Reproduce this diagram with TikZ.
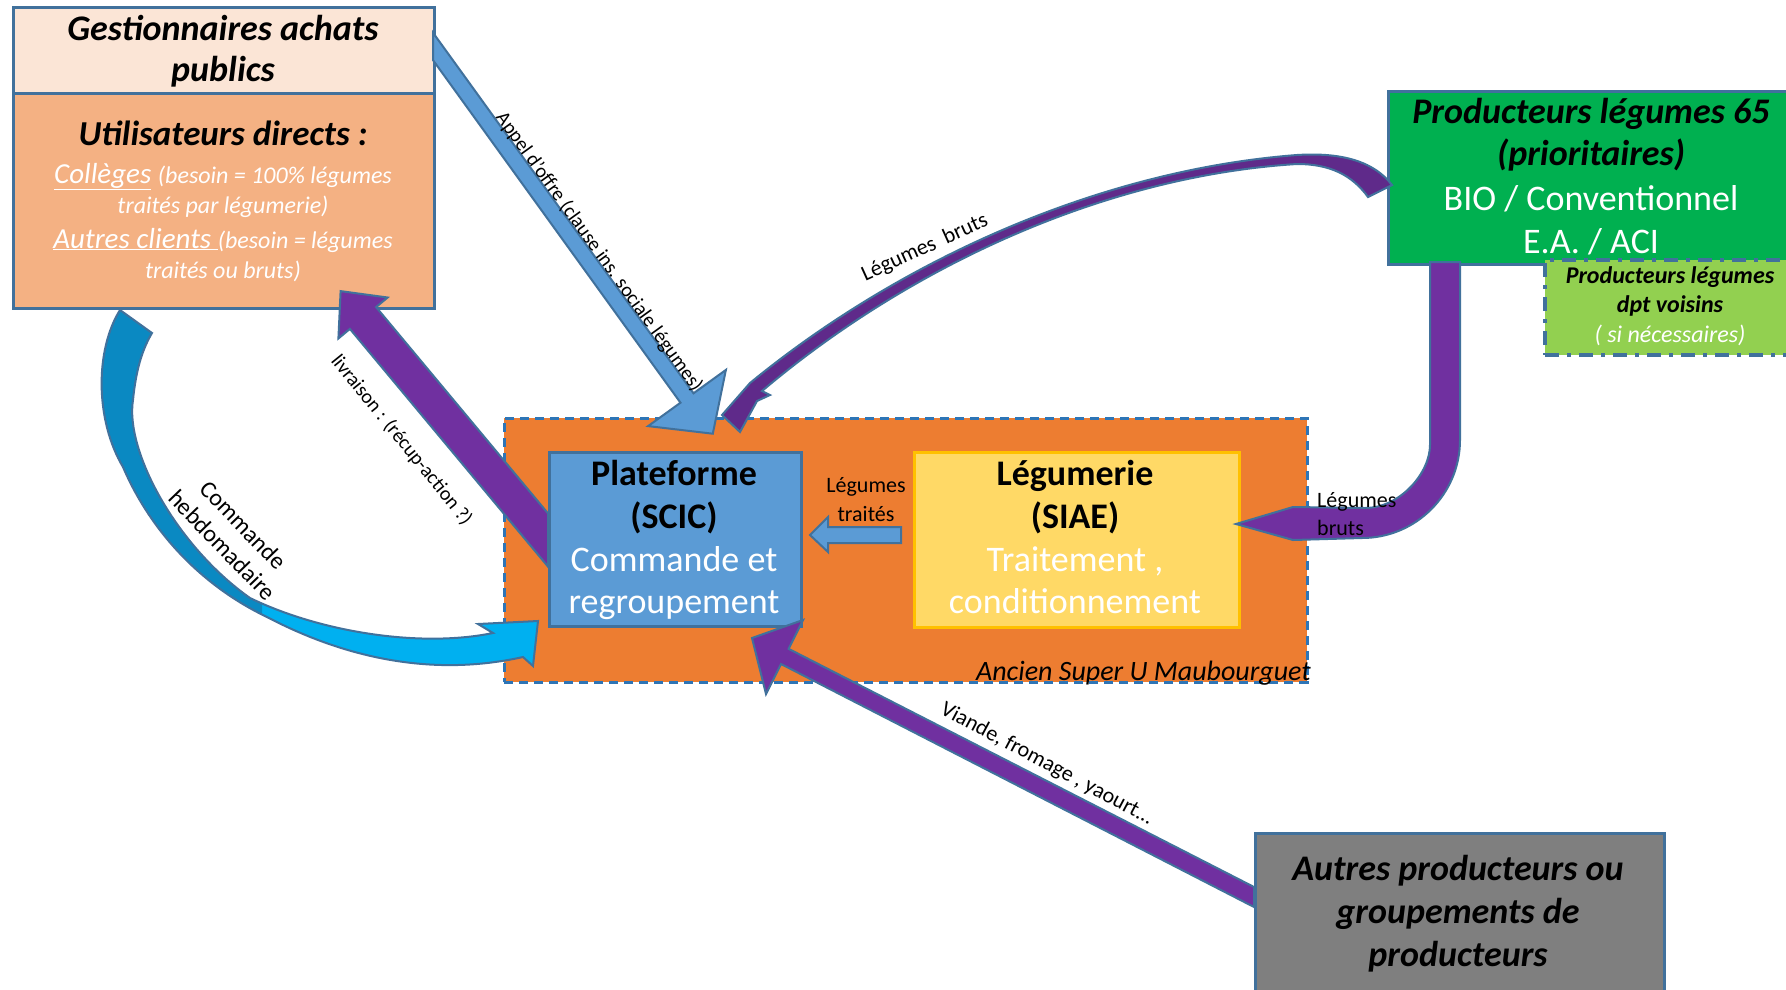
\documentclass[tikz,border=0pt]{standalone}
\usepackage{fontspec}
\setmainfont{Carlito}
\definecolor{bord}{HTML}{41719C}
\definecolor{gestTop}{HTML}{FBE5D6}
\definecolor{gestBot}{HTML}{F4B183}
\definecolor{vert}{HTML}{00B050}
\definecolor{vertclair}{HTML}{92D050}
\definecolor{orangeC}{HTML}{ED7D31}
\definecolor{bleuP}{HTML}{5B9BD5}
\definecolor{jauneL}{HTML}{FFD966}
\definecolor{orL}{HTML}{FFC000}
\definecolor{grisA}{HTML}{7F7F7F}
\definecolor{violet}{HTML}{7030A0}
\definecolor{violetF}{HTML}{5F2A8A}
\definecolor{bleuF}{HTML}{0A89C2}
\definecolor{bleuC}{HTML}{00B0F0}
\definecolor{dashblue}{HTML}{2E75B6}
\newcommand\fsz[1]{\fontsize{#1}{#1}\selectfont}
\tikzset{
  box/.style={draw=bord, line width=2.5pt, inner sep=0pt, anchor=north west},
  lbl/.style={inner sep=0pt, anchor=base},
  arr/.style={draw=bord, line width=2pt, line join=miter},
}
\begin{document}
\begin{tikzpicture}[x=1pt,y=-1pt]
\useasboundingbox (0,0) rectangle (1786,989);
\clip (0,0) rectangle (1786,989);
\fill[white] (0,0) rectangle (1786,989);

% site container
\node[box, draw=dashblue, dash pattern=on 9pt off 6pt, fill=orangeC, minimum width=803pt, minimum height=264pt] (site) at (503,417) {};
\node[lbl, anchor=base east, font=\fsz{28}\itshape] (siteLbl) at (1311,680) {Ancien Super U Maubourguet};

% plateforme
\node[box, fill=bleuP, minimum width=252pt, minimum height=174pt] (plat) at (548,451) {};
\node[lbl, font=\fsz{36}\bfseries] (platA) at (674,485) {Plateforme};
\node[lbl, font=\fsz{36}\bfseries] (platB) at (674,528) {(SCIC)};
\node[lbl, font=\fsz{36}, text=white] (platC) at (674,571) {Commande et};
\node[lbl, font=\fsz{36}, text=white] (platD) at (674,613) {regroupement};

% legumerie
\node[box, draw=orL, fill=jauneL, minimum width=325pt, minimum height=175pt] (legu) at (913,451) {};
\node[lbl, font=\fsz{36}\bfseries] (leguA) at (1075,485) {Légumerie};
\node[lbl, font=\fsz{36}\bfseries] (leguB) at (1075,528) {(SIAE)};
\node[lbl, font=\fsz{36}, text=white] (leguC) at (1075,571) {Traitement ,};
\node[lbl, font=\fsz{36}, text=white] (leguD) at (1075,613) {conditionnement};

% gestionnaires / utilisateurs
\node[box, fill=gestTop, minimum width=421pt, minimum height=86pt] (gest) at (12,6) {};
\node[box, fill=gestBot, minimum width=421pt, minimum height=215pt] (users) at (12,92) {};
\node[lbl, font=\fsz{36}\bfseries\itshape] (gestA) at (223,40) {Gestionnaires achats};
\node[lbl, font=\fsz{36}\bfseries\itshape] (gestB) at (223,81) {publics};
\node[lbl, font=\fsz{35}\bfseries\itshape] (usersA) at (223,145) {Utilisateurs directs :};
\node[lbl, font=\itshape, text=white] (usersB) at (223,183) {\fsz{29}\underline{Collèges} \fsz{24}(besoin = 100\% légumes};
\node[lbl, font=\fsz{24}\itshape, text=white] (usersC) at (223,213) {traités par légumerie)};
\node[lbl, font=\itshape, text=white] (usersD) at (223,248) {\fsz{29}\underline{Autres clients }\fsz{24}(besoin = légumes};
\node[lbl, font=\fsz{24}\itshape, text=white] (usersE) at (223,278) {traités ou bruts)};

% producteurs 65
\node[box, fill=vert, minimum width=413pt, minimum height=173pt] (prod) at (1387,90) {};
\node[lbl, font=\fsz{36}\bfseries\itshape] (prodA) at (1591,123) {Producteurs légumes 65};
\node[lbl, font=\fsz{36}\bfseries\itshape] (prodB) at (1591,165) {(prioritaires)};
\node[lbl, font=\fsz{36}, text=white] (prodC) at (1591,210) {BIO / Conventionnel};
\node[lbl, font=\fsz{36}, text=white] (prodD) at (1591,253) {E.A. / ACI};

% producteurs voisins
\node[box, fill=vertclair, line width=4pt, dash pattern=on 14pt off 8pt on 4pt off 8pt, minimum width=257pt, minimum height=95pt] (vois) at (1543,258) {};
\node[lbl, font=\fsz{24}\bfseries\itshape] (voisA) at (1670,283) {Producteurs légumes};
\node[lbl, font=\fsz{24}\bfseries\itshape] (voisB) at (1670,312) {dpt voisins};
\node[lbl, font=\fsz{24}\itshape, text=white] (voisC) at (1670,342) {( si nécessaires)};

% autres producteurs
\node[box, fill=grisA, minimum width=409pt, minimum height=180pt] (autres) at (1254,832) {};
\node[lbl, font=\fsz{36}\bfseries\itshape] (autA) at (1458,880) {Autres producteurs ou};
\node[lbl, font=\fsz{36}\bfseries\itshape] (autB) at (1458,923) {groupements de};
\node[lbl, font=\fsz{36}\bfseries\itshape] (autC) at (1458,966) {producteurs};

% ---------- arrows ----------
% Legumes traites (legumerie -> plateforme)
\draw[arr, fill=bleuP] (901,527) -- (828,527) -- (828,517) -- (810,535) -- (828,552) -- (828,543) -- (901,543) -- cycle;
\node[lbl, font=\fsz{22}] (ltA) at (866,492) {Légumes};
\node[lbl, font=\fsz{22}] (ltB) at (866,521) {traités};

% Appel d'offre
\draw[arr, fill=bleuP] (433,32.7) -- (693.5,393.3) -- (725.9,369.9) -- (712.8,433.7) -- (648.1,426.1) -- (680.5,402.7) -- (433,60.1) -- cycle;
\node[inner sep=0pt, rotate=-54.2, font=\fsz{20}] (appelLbl) at (599,252) {Appel d’offre (clause ins. sociale légumes)};

% livraison
\draw[arr, fill=violet] (340.6,291.1) -- (387.6,297.5) -- (376.1,307.1) -- (548,513.4) -- (548,566.6) -- (349.9,328.9) -- (338.4,338.5) -- cycle;
\node[inner sep=0pt, rotate=-51, font=\fsz{20}] (livLbl) at (401.5,440) {livraison : (récup-action ?)};

% Commande hebdomadaire (curved)
\def\cmdpath{(120,310) .. controls (95,350) and (95,420) .. (123,467) .. controls (150,530) and (200,585) .. (267,617) .. controls (330,650) and (420,680) .. (523,657) -- (533,666) -- (538,621) -- (478,624) -- (493,633) .. controls (420,648) and (320,632) .. (250,598) .. controls (175,545) and (125,450) .. (133,400) .. controls (136,370) and (142,350) .. (152,333) -- cycle}
\fill[bleuC] \cmdpath;
\begin{scope}
\clip (50,290) rectangle (262,640);
\fill[bleuF] \cmdpath;
\end{scope}
\draw[arr] \cmdpath;
\node[inner sep=0pt, rotate=-46, align=center, font=\fontsize{24}{29}\selectfont] (cmdLbl) at (233,535) {Commande\\hebdomadaire};

% Viande, fromage
\draw[arr, fill=violet] (803,620) -- (752,638) -- (766,694) -- (781,664) -- (1254,907) -- (1254,887) -- (788.6,648.8) -- cycle;
\node[inner sep=0pt, rotate=-28, font=\fsz{22}] (viandeLbl) at (1047,764) {Viande, fromage , yaourt...};

% Legumes bruts (right, elbow)
\draw[arr, fill=violet] (1430,262) -- (1460,262) -- (1460,440) .. controls (1460,494) and (1416,538) .. (1362,538) -- (1293,540) -- (1236,524) -- (1293,507) -- (1365,508) .. controls (1400,508) and (1430,473) .. (1430,445) -- cycle;
\node[lbl, anchor=base west, font=\fsz{22}] (lbA) at (1317,507) {Légumes};
\node[lbl, anchor=base west, font=\fsz{22}] (lbB) at (1317,535) {bruts};

% Legumes bruts (top, curved)
\draw[arr, fill=violetF] (750,383) .. controls (900,260) and (1100,170) .. (1297,155) .. controls (1345,152) and (1375,163) .. (1392,185) -- (1368,197) .. controls (1352,175) and (1330,164) .. (1297,164) .. controls (1105,176) and (910,266) .. (762,391) -- (770,395) -- (757,401) -- (740,432) -- (722,415) -- cycle;
\node[inner sep=0pt, rotate=24.4, font=\fsz{22}] (ltopLbl) at (925,248) {Légumes~ bruts};
\end{tikzpicture}
\end{document}
